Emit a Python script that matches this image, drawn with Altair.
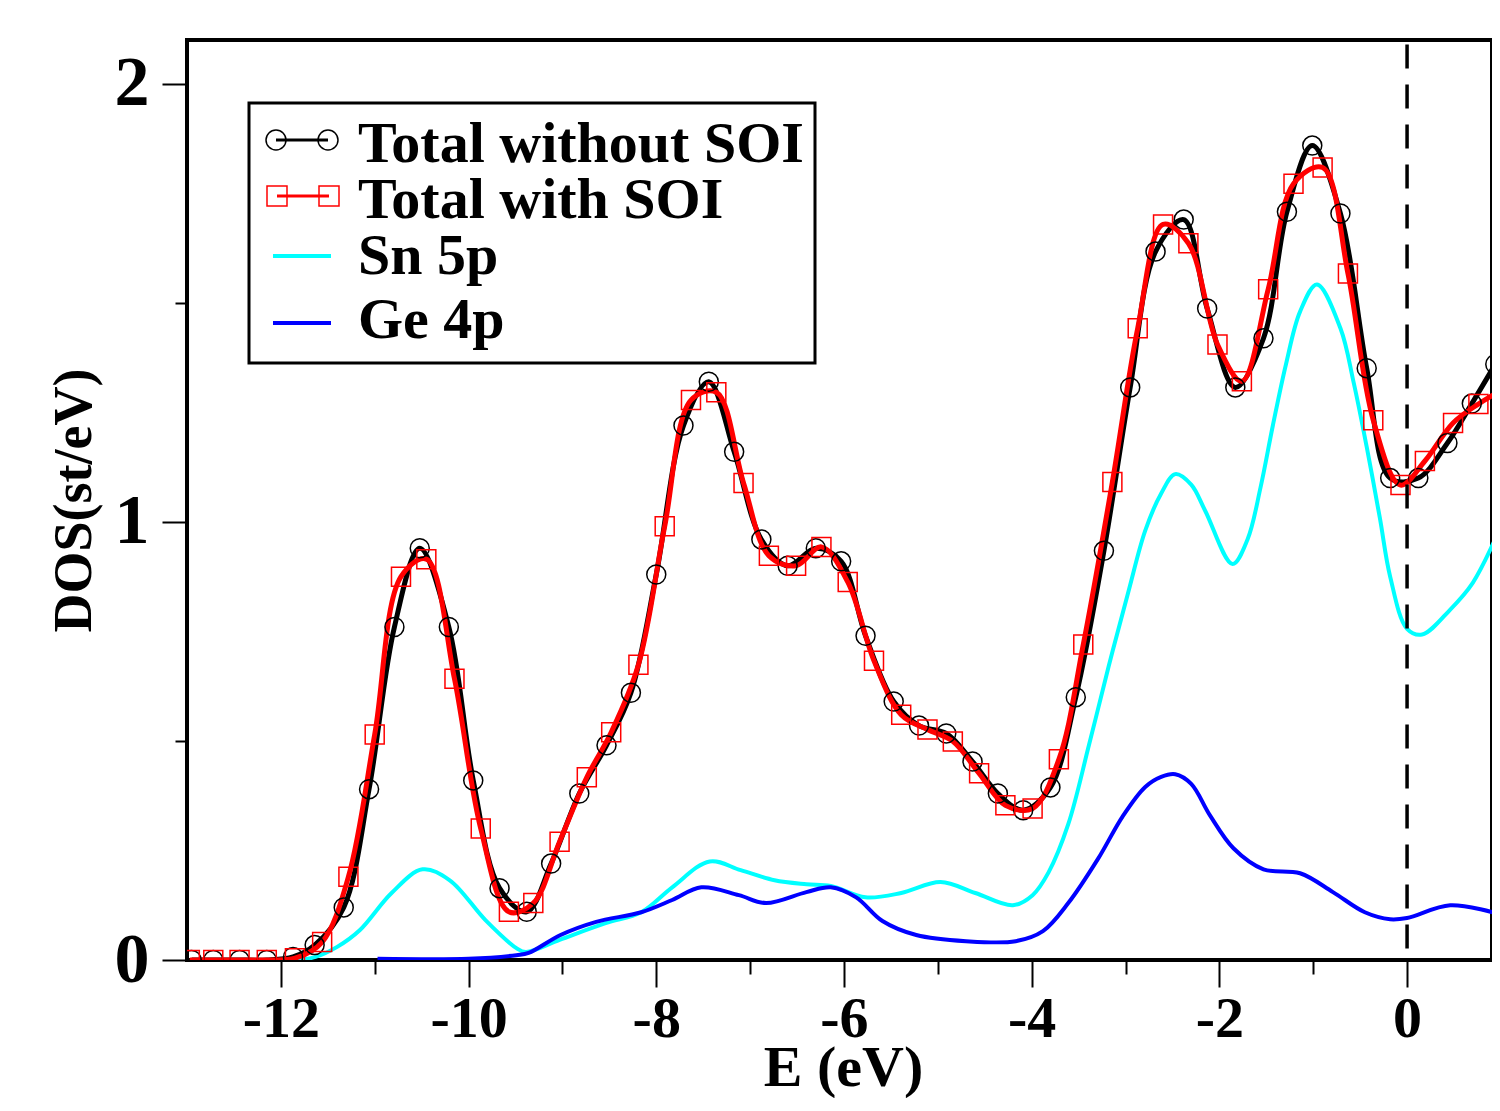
import altair as alt
import pandas as pd

# ---------------- data ----------------
E_noSOI = [-12.95, -12.72, -12.44, -12.15, -11.87, -11.64, -11.33, -11.06, -10.79, -10.52,
           -10.21, -9.95, -9.67, -9.38, -9.12, -8.82, -8.53, -8.27, -8.00, -7.71,
           -7.44, -7.17, -6.88, -6.60, -6.30, -6.03, -5.77, -5.47, -5.20, -4.91,
           -4.63, -4.36, -4.09, -3.80, -3.53, -3.23, -2.95, -2.68, -2.38, -2.13,
           -1.83, -1.53, -1.28, -1.01, -0.71, -0.43, -0.18, 0.12, 0.43, 0.69, 0.94]
DOS_noSOI = [0.0, 0.0, 0.0, 0.0, 0.007, 0.034, 0.12, 0.39, 0.76, 0.94,
             0.76, 0.41, 0.164, 0.11, 0.22, 0.38, 0.49, 0.61, 0.88, 1.22,
             1.32, 1.16, 0.96, 0.90, 0.94, 0.91, 0.74, 0.59, 0.535, 0.517,
             0.453, 0.38, 0.342, 0.394, 0.60, 0.934, 1.307, 1.617, 1.69, 1.487,
             1.307, 1.419, 1.708, 1.859, 1.704, 1.351, 1.10, 1.10, 1.18, 1.27, 1.36]

E_SOI = [-12.97, -12.72, -12.44, -12.15, -11.85, -11.56, -11.28, -11.00, -10.72, -10.45,
         -10.15, -9.87, -9.57, -9.31, -9.03, -8.74, -8.48, -8.19, -7.91, -7.63,
         -7.36, -7.07, -6.80, -6.51, -6.24, -5.96, -5.68, -5.39, -5.11, -4.84,
         -4.56, -4.28, -3.99, -3.71, -3.45, -3.14, -2.87, -2.60, -2.33, -2.02,
         -1.76, -1.48, -1.21, -0.90, -0.63, -0.36, -0.07, 0.19, 0.49, 0.76, 1.0]
DOS_SOI = [0.0, 0.0, 0.0, 0.0, 0.004, 0.041, 0.19, 0.515, 0.875, 0.915,
           0.642, 0.30, 0.11, 0.13, 0.27, 0.417, 0.52, 0.674, 0.99, 1.278,
           1.296, 1.089, 0.923, 0.90, 0.943, 0.863, 0.683, 0.56, 0.526, 0.499,
           0.426, 0.353, 0.346, 0.458, 0.72, 1.091, 1.442, 1.679, 1.636, 1.405,
           1.321, 1.531, 1.772, 1.809, 1.567, 1.232, 1.084, 1.139, 1.226, 1.269, 1.30]

E_sn = [-11.82, -11.63, -11.40, -11.16, -10.82, -10.49, -10.20, -9.82, -9.49, -9.39,
        -9.03, -8.54, -8.16, -7.83, -7.43, -7.10, -6.74, -6.40, -6.14, -5.77,
        -5.39, -4.97, -4.60, -4.20, -3.99, -3.82, -3.61, -3.39, -3.18, -2.97,
        -2.79, -2.62, -2.47, -2.30, -2.15, -1.86, -1.70, -1.56, -1.43, -1.29,
        -1.14, -0.96, -0.71, -0.57, -0.43, -0.29, -0.18, 0.0, 0.16, 0.46,
        0.70, 0.98]
DOS_sn = [0.0, 0.007, 0.03, 0.068, 0.153, 0.207, 0.182, 0.091, 0.027, 0.018,
          0.046, 0.084, 0.109, 0.166, 0.225, 0.205, 0.182, 0.173, 0.169, 0.143,
          0.153, 0.178, 0.153, 0.125, 0.148, 0.20, 0.31, 0.49, 0.67, 0.84,
          0.98, 1.065, 1.109, 1.085, 1.025, 0.904, 0.96, 1.08, 1.22, 1.36,
          1.48, 1.542, 1.442, 1.319, 1.171, 1.009, 0.875, 0.756, 0.743, 0.80,
          0.861, 0.98]

E_ge = [-10.97, -10.0, -9.49, -9.36, -9.02, -8.64, -8.16, -7.83, -7.52, -7.12,
        -6.83, -6.40, -6.14, -5.87, -5.59, -5.23, -4.70, -4.17, -3.88, -3.61,
        -3.29, -3.03, -2.79, -2.62, -2.47, -2.30, -2.10, -1.85, -1.53, -1.14,
        -0.79, -0.45, -0.18, 0.0, 0.46, 0.98]
DOS_ge = [0.003, 0.003, 0.011, 0.016, 0.057, 0.087, 0.109, 0.137, 0.166, 0.148,
          0.130, 0.155, 0.166, 0.143, 0.089, 0.057, 0.043, 0.043, 0.066, 0.130,
          0.232, 0.328, 0.395, 0.418, 0.424, 0.402, 0.33, 0.255, 0.207, 0.198,
          0.155, 0.109, 0.093, 0.096, 0.125, 0.105]

fermi_E = [0.0]

x_ticks = [-12, -11, -10, -9, -8, -7, -6, -5, -4, -3, -2, -1, 0]
y_ticks = [0, 0.5, 1, 1.5, 2]
legend_labels = ["Total without SOI", "Total with SOI", "Sn 5p", "Ge 4p"]

# ---------------- styling ----------------
FONT = "Liberation Serif"
C_BLACK, C_RED, C_CYAN, C_BLUE = "#000000", "#ff0000", "#00ffff", "#0000ff"

xscale = alt.Scale(domain=[-13, 0.905], nice=False, zero=False)
yscale = alt.Scale(domain=[0, 2.1], nice=False, zero=False)

x_axis = alt.Axis(
    values=x_ticks,
    labelExpr="datum.value % 2 === 0 ? '' + datum.value : ''",
    tickSize={"condition": {"test": "datum.value % 2 !== 0", "value": 14}, "value": 27},
    tickWidth=2, tickColor="black", domain=False, grid=False,
    labelFont=FONT, labelFontWeight="bold", labelFontSize=58, labelColor="black",
    labelPadding=3, labelFlush=False, labelOverlap=False,
    title="E (eV)", titleFont=FONT, titleFontWeight="bold", titleFontSize=58,
    titleColor="black", titleX=656, titleY=125, titleBaseline="alphabetic",
    titleAlign="center",
)
y_axis = alt.Axis(
    values=y_ticks,
    labelExpr="datum.value % 1 === 0 ? '' + datum.value : ''",
    tickSize={"condition": {"test": "datum.value % 1 !== 0", "value": 12}, "value": 25},
    tickWidth=2, tickColor="black", domain=False, grid=False,
    labelFont=FONT, labelFontWeight="bold", labelFontSize=70, labelColor="black",
    labelPadding=13, labelFlush=False, labelOverlap=False,
    title="DOS(st/eV)", titleFont=FONT, titleFontWeight="bold", titleFontSize=54,
    titleColor="black", titleAngle=270, titleX=-97, titleY=460,
    titleBaseline="alphabetic", titleAlign="center",
)


def xy():
    return dict(
        x=alt.X("E:Q", scale=xscale, axis=x_axis),
        y=alt.Y("DOS:Q", scale=yscale, axis=y_axis),
    )


df_no = pd.DataFrame({"E": E_noSOI, "DOS": DOS_noSOI})
df_so = pd.DataFrame({"E": E_SOI, "DOS": DOS_SOI})
df_sn = pd.DataFrame({"E": E_sn, "DOS": DOS_sn})
df_ge = pd.DataFrame({"E": E_ge, "DOS": DOS_ge})
df_f = pd.DataFrame({"E": fermi_E})

INTERP = "catmull-rom"

sn_line = alt.Chart(df_sn).mark_line(color=C_CYAN, strokeWidth=4, interpolate=INTERP, clip=True).encode(**xy())
ge_line = alt.Chart(df_ge).mark_line(color=C_BLUE, strokeWidth=4, interpolate=INTERP, clip=True).encode(**xy())
no_line = alt.Chart(df_no).mark_line(color=C_BLACK, strokeWidth=5, interpolate=INTERP, clip=True).encode(**xy())
so_line = alt.Chart(df_so).mark_line(color=C_RED, strokeWidth=5, interpolate=INTERP, clip=True).encode(**xy())
no_pts = alt.Chart(df_no).mark_point(shape="circle", size=361, filled=False, color=C_BLACK,
                                     strokeWidth=1.5, opacity=1, clip=True).encode(**xy())
so_pts = alt.Chart(df_so).transform_filter("datum.E < 0.85").mark_point(
    shape="square", size=361, filled=False, color=C_RED, strokeWidth=1.5, opacity=1, clip=True
).encode(**xy())

fermi = alt.Chart(df_f).mark_rule(color="black", strokeWidth=3.5, strokeDash=[24, 16]).encode(
    x=alt.X("E:Q", scale=xscale, axis=x_axis),
    y=alt.datum(2.09, scale=yscale),
    y2=alt.datum(0.012),
)

# ---------------- legend (drawn inside plot area) ----------------
one = pd.DataFrame({"k": [0]})
box = alt.Chart(one).mark_rect(fill="white", stroke="black", strokeWidth=3).encode(
    x=alt.value(62), x2=alt.value(628), y=alt.value(63), y2=alt.value(323)
)

sym_y = [100, 156, 216, 283]
txt_y = [122, 178, 234, 298]
line_colors = [C_BLACK, C_RED, C_CYAN, C_BLUE]
line_x = [(89, 141), (90, 142), (86, 144), (86, 144)]
line_w = [3, 3, 4, 4]

legend_layers = [box]
for i, lab in enumerate(legend_labels):
    legend_layers.append(
        alt.Chart(one).mark_rule(color=line_colors[i], strokeWidth=line_w[i]).encode(
            x=alt.value(line_x[i][0]), x2=alt.value(line_x[i][1]), y=alt.value(sym_y[i])
        )
    )
    if i < 2:
        shape = "circle" if i == 0 else "square"
        for xv in line_x[i]:
            legend_layers.append(
                alt.Chart(one).mark_point(shape=shape, size=400, filled=False, color=line_colors[i],
                                          strokeWidth=1.5, opacity=1).encode(
                    x=alt.value(xv), y=alt.value(sym_y[i])
                )
            )
    legend_layers.append(
        alt.Chart(pd.DataFrame({"label": [lab]})).mark_text(
            font=FONT, fontWeight="bold", fontSize=58, color="black", align="left", baseline="alphabetic"
        ).encode(x=alt.value(171), y=alt.value(txt_y[i]), text="label:N")
    )

chart = alt.layer(
    sn_line, ge_line, no_line, so_line, no_pts, so_pts, fermi, *legend_layers
).properties(
    width=1305, height=920,
    autosize=alt.AutoSizeParams(type="none"),
    padding={"left": 179, "top": 32, "right": 0, "bottom": 138},
).configure_view(
    stroke="black", strokeWidth=4
)

chart.save("out.html", embed_options={"renderer": "svg", "actions": False})
